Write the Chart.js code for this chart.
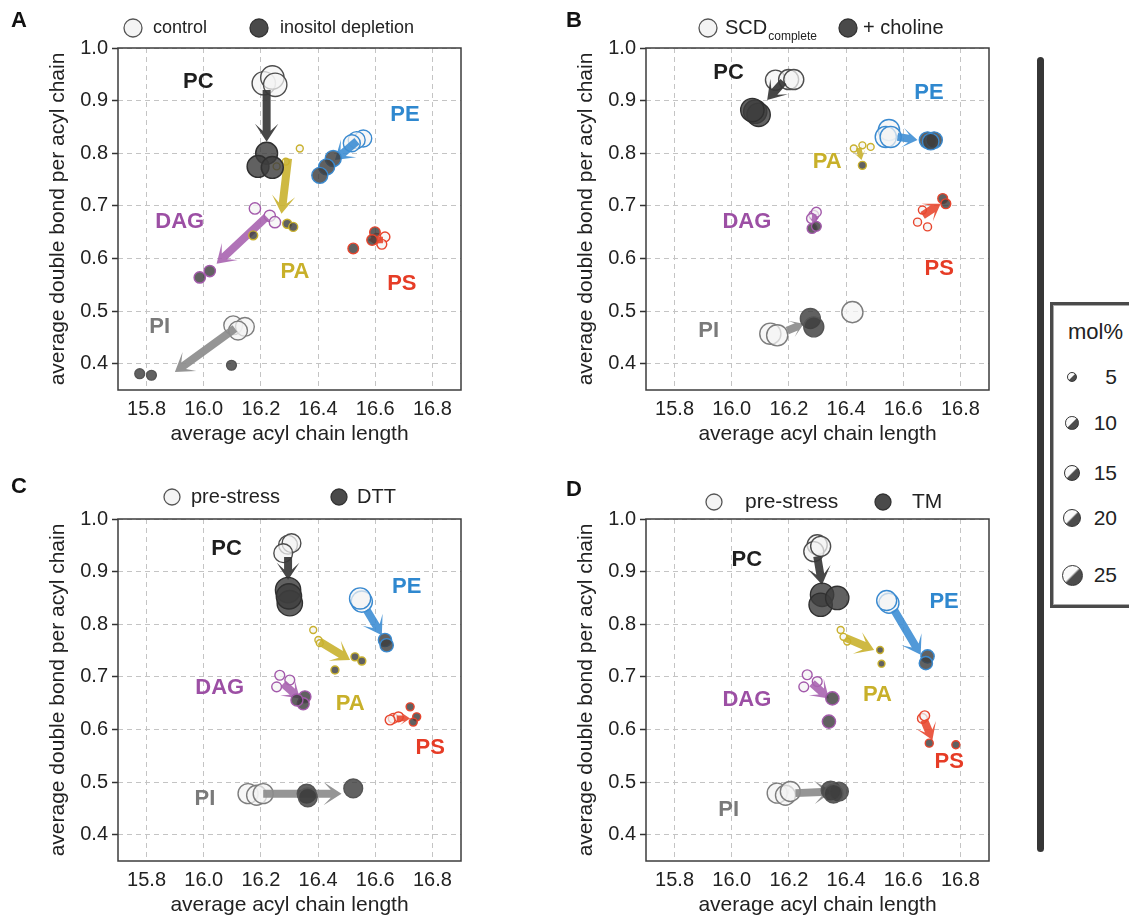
<!DOCTYPE html>
<html>
<head>
<meta charset="utf-8">
<script src="https://cdn.jsdelivr.net/npm/chart.js@4.4.1/dist/chart.umd.min.js"></script>
<style>
  body { margin:0; background:#fff; width:1129px; height:922px; overflow:hidden; position:relative;
         font-family:"Liberation Sans", Arial, sans-serif; color:#222; }
  canvas { position:absolute; }
  #bar { position:absolute; left:1037px; top:57px; width:7px; height:795px; background:#363636; border-radius:4px; }
  #molbox { position:absolute; left:1050px; top:302px; width:110px; height:306px; box-sizing:border-box;
            border:3px solid #4a4a4a; box-shadow: inset 0 0 0 1px #aaa; }
  #molbox .t { position:absolute; left:15px; top:14px; font-size:22px; }
  .mi { position:absolute; border-radius:50%; box-sizing:border-box; border:1px solid #333;
        background:linear-gradient(135deg, #fafafa 0 46%, #4c4c4c 54% 100%); }
  .mn { position:absolute; width:40px; text-align:right; font-size:21px; line-height:22px; }
</style>
</head>
<body>
<div id="bar"></div>
<div id="molbox"><div class="t">mol%</div></div>

<script>
// ── Data ─────────────────────────────────────────────────────────────────────
const classes = ['PC', 'PE', 'PA', 'DAG', 'PS', 'PI'];
const xTicks = [15.8, 16.0, 16.2, 16.4, 16.6, 16.8];
const yTicks = [0.4, 0.5, 0.6, 0.7, 0.8, 0.9, 1.0];
const molLegend = [5, 10, 15, 20, 25];

// points: [class, average acyl chain length, average double bonds, mol%]
// A: control -> inositol depletion
const aBefore = [
  ['PC', 16.21, 0.933, 34], ['PC', 16.24, 0.944, 34], ['PC', 16.25, 0.930, 34],
  ['PE', 16.558, 0.828, 18], ['PE', 16.535, 0.825, 18], ['PE', 16.518, 0.819, 18],
  ['PA', 16.336, 0.809, 3], ['PA', 16.287, 0.784, 3], ['PA', 16.255, 0.775, 3],
  ['DAG', 16.179, 0.695, 8], ['DAG', 16.231, 0.681, 8], ['DAG', 16.249, 0.669, 8],
  ['PS', 16.605, 0.638, 6], ['PS', 16.634, 0.641, 6], ['PS', 16.623, 0.627, 6],
  ['PI', 16.103, 0.473, 22], ['PI', 16.144, 0.470, 22], ['PI', 16.120, 0.463, 22]
];
const aAfter = [
  ['PC', 16.22, 0.800, 30], ['PC', 16.19, 0.775, 30], ['PC', 16.24, 0.773, 30],
  ['PE', 16.453, 0.790, 16], ['PE', 16.430, 0.774, 16], ['PE', 16.406, 0.758, 16],
  ['PA', 16.292, 0.666, 5], ['PA', 16.313, 0.660, 5], ['PA', 16.173, 0.644, 5],
  ['DAG', 15.986, 0.564, 8], ['DAG', 16.021, 0.576, 8],
  ['PS', 16.599, 0.650, 7], ['PS', 16.523, 0.619, 7], ['PS', 16.589, 0.635, 7],
  ['PI', 15.776, 0.381, 6], ['PI', 15.817, 0.378, 6], ['PI', 16.097, 0.397, 6]
];
// arrows: [class, x from, y from, x to, y to]
const aArrows = [
  ['PC', 16.22, 0.920, 16.22, 0.822], ['PE', 16.536, 0.823, 16.459, 0.787],
  ['PA', 16.295, 0.790, 16.272, 0.685], ['DAG', 16.22, 0.679, 16.045, 0.590],
  ['PS', 16.627, 0.635, 16.575, 0.635], ['PI', 16.109, 0.467, 15.899, 0.384]
];
const aLabels = [
  ['PC', 15.981, 0.936], ['PE', 16.704, 0.872], ['PA', 16.319, 0.574],
  ['DAG', 15.916, 0.669], ['PS', 16.693, 0.552], ['PI', 15.846, 0.470]
];

// B: SCD complete -> + choline
const bBefore = [
  ['PC', 16.153, 0.939, 25], ['PC', 16.199, 0.940, 25], ['PC', 16.217, 0.940, 25],
  ['PE', 16.550, 0.844, 28], ['PE', 16.539, 0.831, 28], ['PE', 16.556, 0.831, 28],
  ['PA', 16.427, 0.809, 3], ['PA', 16.457, 0.815, 3], ['PA', 16.486, 0.812, 3],
  ['DAG', 16.287, 0.682, 6], ['DAG', 16.296, 0.688, 6], ['DAG', 16.279, 0.676, 6],
  ['PS', 16.650, 0.669, 4], ['PS', 16.685, 0.660, 4], ['PS', 16.667, 0.692, 4],
  ['PI', 16.135, 0.457, 28], ['PI', 16.159, 0.454, 28], ['PI', 16.422, 0.498, 28]
];
const bAfter = [
  ['PC', 16.082, 0.879, 34], ['PC', 16.094, 0.873, 34], ['PC', 16.072, 0.882, 34],
  ['PE', 16.685, 0.825, 17], ['PE', 16.708, 0.825, 17], ['PE', 16.696, 0.822, 17],
  ['PA', 16.457, 0.777, 4],
  ['DAG', 16.281, 0.657, 6], ['DAG', 16.296, 0.661, 6],
  ['PS', 16.738, 0.714, 6], ['PS', 16.749, 0.704, 6],
  ['PI', 16.275, 0.486, 25], ['PI', 16.287, 0.470, 25]
];
const bArrows = [
  ['PC', 16.181, 0.936, 16.124, 0.901], ['PE', 16.58, 0.831, 16.65, 0.825],
  ['PA', 16.444, 0.810, 16.454, 0.787], ['DAG', 16.289, 0.684, 16.286, 0.665],
  ['PS', 16.668, 0.682, 16.731, 0.704], ['PI', 16.194, 0.463, 16.252, 0.476]
];
const bLabels = [
  ['PC', 15.989, 0.952], ['PE', 16.690, 0.914], ['PA', 16.334, 0.784],
  ['DAG', 16.053, 0.669], ['PS', 16.726, 0.581], ['PI', 15.919, 0.463]
];

// C: pre-stress -> DTT
const cBefore = [
  ['PC', 16.295, 0.951, 22], ['PC', 16.307, 0.954, 22], ['PC', 16.278, 0.935, 22],
  ['PE', 16.553, 0.843, 28], ['PE', 16.547, 0.849, 28],
  ['PA', 16.383, 0.789, 3], ['PA', 16.401, 0.770, 3], ['PA', 16.406, 0.764, 3],
  ['DAG', 16.266, 0.703, 6], ['DAG', 16.255, 0.681, 6], ['DAG', 16.301, 0.694, 6],
  ['PS', 16.663, 0.621, 6], ['PS', 16.681, 0.624, 6], ['PS', 16.652, 0.618, 6],
  ['PI', 16.155, 0.478, 25], ['PI', 16.185, 0.475, 25], ['PI', 16.208, 0.478, 25]
];
const cAfter = [
  ['PC', 16.295, 0.865, 40], ['PC', 16.301, 0.840, 40], ['PC', 16.298, 0.853, 40],
  ['PE', 16.634, 0.770, 11], ['PE', 16.640, 0.760, 11],
  ['PA', 16.529, 0.738, 4], ['PA', 16.553, 0.730, 4], ['PA', 16.459, 0.713, 4],
  ['DAG', 16.354, 0.662, 9], ['DAG', 16.348, 0.649, 9], ['DAG', 16.326, 0.656, 9],
  ['PS', 16.722, 0.643, 4], ['PS', 16.745, 0.624, 4], ['PS', 16.733, 0.614, 4],
  ['PI', 16.360, 0.478, 22], ['PI', 16.364, 0.471, 22], ['PI', 16.523, 0.488, 22]
];
const cArrows = [
  ['PC', 16.295, 0.928, 16.295, 0.884], ['PE', 16.57, 0.827, 16.623, 0.779],
  ['PA', 16.406, 0.767, 16.512, 0.732], ['DAG', 16.278, 0.687, 16.336, 0.659],
  ['PS', 16.675, 0.621, 16.722, 0.621], ['PI', 16.208, 0.478, 16.482, 0.478]
];
const cLabels = [
  ['PC', 16.080, 0.944], ['PE', 16.710, 0.871], ['PA', 16.512, 0.649],
  ['DAG', 16.056, 0.678], ['PS', 16.792, 0.564], ['PI', 16.004, 0.468]
];

// D: pre-stress -> TM
const dBefore = [
  ['PC', 16.299, 0.951, 25], ['PC', 16.287, 0.938, 25], ['PC', 16.311, 0.948, 25],
  ['PE', 16.550, 0.840, 25], ['PE', 16.542, 0.845, 25],
  ['PA', 16.381, 0.789, 3], ['PA', 16.404, 0.767, 3], ['PA', 16.391, 0.776, 3],
  ['DAG', 16.264, 0.704, 6], ['DAG', 16.252, 0.681, 6], ['DAG', 16.299, 0.691, 6],
  ['PS', 16.667, 0.621, 6], ['PS', 16.675, 0.626, 6],
  ['PI', 16.159, 0.479, 25], ['PI', 16.188, 0.475, 25], ['PI', 16.205, 0.482, 25]
];
const dAfter = [
  ['PC', 16.316, 0.856, 34], ['PC', 16.311, 0.837, 34], ['PC', 16.369, 0.850, 34],
  ['PE', 16.685, 0.739, 11], ['PE', 16.679, 0.726, 11],
  ['PA', 16.519, 0.751, 3], ['PA', 16.524, 0.725, 3],
  ['DAG', 16.352, 0.659, 11], ['DAG', 16.340, 0.615, 11],
  ['PS', 16.691, 0.574, 4], ['PS', 16.784, 0.571, 4],
  ['PI', 16.346, 0.484, 22], ['PI', 16.375, 0.482, 22], ['PI', 16.356, 0.478, 22]
];
const dArrows = [
  ['PC', 16.299, 0.929, 16.316, 0.875], ['PE', 16.568, 0.827, 16.661, 0.742],
  ['PA', 16.398, 0.774, 16.498, 0.751], ['DAG', 16.281, 0.688, 16.34, 0.659],
  ['PS', 16.673, 0.618, 16.702, 0.580], ['PI', 16.223, 0.479, 16.352, 0.482]
];
const dLabels = [
  ['PC', 16.053, 0.923], ['PE', 16.743, 0.843], ['PA', 16.510, 0.666],
  ['DAG', 16.053, 0.656], ['PS', 16.761, 0.539], ['PI', 15.989, 0.447]
];

// ── Styles ───────────────────────────────────────────────────────────────────
const FONT = '"Liberation Sans", Arial, sans-serif';
const edgeOpen  = { PC:'#4d4d4d', PE:'#3a8ad0', PA:'#c9b12e', DAG:'#a35aab', PS:'#e8452d', PI:'#7d7d7d' };
const edgeDark  = { PC:'#303030', PE:'#3a8ad0', PA:'#c9b12e', DAG:'#a35aab', PS:'#e8452d', PI:'#555555' };
const arrowCol  = { PC:'rgba(55,55,55,0.92)', PE:'rgba(62,142,212,0.9)', PA:'rgba(201,177,46,0.9)',
                    DAG:'rgba(168,100,176,0.9)', PS:'rgba(232,72,48,0.9)', PI:'rgba(140,140,140,0.92)' };
const labelCol  = { PC:'#1e1e1e', PE:'#2f88cf', PA:'#c8b02a', DAG:'#9c4fa4', PS:'#e63c26', PI:'#7a7a7a' };
const radius = m => 2 * Math.sqrt(m);

const panels = [
  { letter:'A', left:0,   top:0,   before:aBefore, after:aAfter, arrows:aArrows, labels:aLabels, letterAt:[19, 21],
    legend:{ y:28, r:9, font:18, items:[ {cx:133, tx:153, filled:false, text:'control'},
                                         {cx:259, tx:280, filled:true,  text:'inositol depletion'} ] } },
  { letter:'B', left:528, top:0,   before:bBefore, after:bAfter, arrows:bArrows, labels:bLabels, letterAt:[46, 21],
    legend:{ y:28, r:9, font:20, items:[ {cx:180, tx:197, filled:false, text:'SCD', sub:'complete'},
                                         {cx:320, tx:335, filled:true,  text:'+ choline'} ] } },
  { letter:'C', left:0,   top:471, before:cBefore, after:cAfter, arrows:cArrows, labels:cLabels, letterAt:[19, 16],
    legend:{ y:26, r:8, font:20, items:[ {cx:172, tx:191, filled:false, text:'pre-stress'},
                                         {cx:339, tx:357, filled:true,  text:'DTT'} ] } },
  { letter:'D', left:528, top:471, before:dBefore, after:dAfter, arrows:dArrows, labels:dLabels, letterAt:[46, 19],
    legend:{ y:31, r:8, font:21, items:[ {cx:186, tx:217, filled:false, text:'pre-stress'},
                                         {cx:355, tx:384, filled:true,  text:'TM'} ] } }
];

function toPoints(rows) {
  return rows.map(([cls, x, y, m]) => ({ x, y, r: radius(m), cls }));
}

function drawArrow(ctx, x0, y0, x1, y1, color) {
  const dx = x1 - x0, dy = y1 - y0, len = Math.hypot(dx, dy);
  if (len < 1) return;
  const ux = dx / len, uy = dy / len, px = -uy, py = ux;
  const hl = Math.min(18, len * 0.75);
  const hw = hl * 1.3;
  const sw = Math.min(8, hw * 0.45);
  const nx = x1 - ux * hl * 0.6, ny = y1 - uy * hl * 0.6;
  const bx = x1 - ux * hl, by = y1 - uy * hl;
  ctx.save();
  ctx.fillStyle = color;
  ctx.beginPath();
  ctx.moveTo(x0 + px * sw / 2, y0 + py * sw / 2);
  ctx.lineTo(nx + px * sw / 2, ny + py * sw / 2);
  ctx.lineTo(bx + px * hw / 2, by + py * hw / 2);
  ctx.lineTo(x1, y1);
  ctx.lineTo(bx - px * hw / 2, by - py * hw / 2);
  ctx.lineTo(nx - px * sw / 2, ny - py * sw / 2);
  ctx.lineTo(x0 - px * sw / 2, y0 - py * sw / 2);
  ctx.closePath();
  ctx.fill();
  ctx.restore();
}

function legendCircle(ctx, x, y, r, filled) {
  ctx.beginPath();
  ctx.arc(x, y, r, 0, Math.PI * 2);
  ctx.fillStyle = filled ? '#4a4a4a' : '#f4f4f4';
  ctx.fill();
  ctx.lineWidth = 1.3;
  ctx.strokeStyle = filled ? '#333' : '#555';
  ctx.stroke();
}

function decorPlugin(p) {
  return {
    id: 'decor' + p.letter,
    afterDatasetDraw(chart, args) {
      if (args.index !== 1) return;          // open circles done -> arrows, then dark circles
      const { ctx, scales: { x, y } } = chart;
      p.arrows.forEach(([cls, xa, ya, xb, yb]) => {
        drawArrow(ctx, x.getPixelForValue(xa), y.getPixelForValue(ya),
                       x.getPixelForValue(xb), y.getPixelForValue(yb), arrowCol[cls]);
      });
    },
    afterDraw(chart) {
      const { ctx, chartArea: a, scales: { x, y } } = chart;
      ctx.save();
      // frame
      ctx.strokeStyle = '#3c3c3c';
      ctx.lineWidth = 1.5;
      ctx.strokeRect(a.left, a.top, a.right - a.left, a.bottom - a.top);
      // class labels
      ctx.font = 'bold 22px ' + FONT;
      ctx.textAlign = 'center';
      ctx.textBaseline = 'middle';
      p.labels.forEach(([cls, lx, ly]) => {
        ctx.fillStyle = labelCol[cls];
        ctx.fillText(cls, x.getPixelForValue(lx), y.getPixelForValue(ly));
      });
      // panel letter
      ctx.fillStyle = '#111';
      ctx.font = 'bold 22px ' + FONT;
      ctx.fillText(p.letter, p.letterAt[0], p.letterAt[1]);
      // top legend
      const lg = p.legend;
      ctx.textAlign = 'left';
      lg.items.forEach(it => {
        legendCircle(ctx, it.cx, lg.y, lg.r, it.filled);
        ctx.fillStyle = '#222';
        ctx.font = lg.font + 'px ' + FONT;
        ctx.textBaseline = 'middle';
        ctx.fillText(it.text, it.tx, lg.y);
        if (it.sub) {
          const w = ctx.measureText(it.text).width;
          ctx.font = '12px ' + FONT;
          ctx.fillText(it.sub, it.tx + w + 1, lg.y + 9);
        }
      });
      ctx.restore();
    }
  };
}

function makePanel(p) {
  const cv = document.createElement('canvas');
  cv.width = 560; cv.height = 451;
  cv.style.left = p.left + 'px';
  cv.style.top = p.top + 'px';
  document.body.appendChild(cv);

  const tickFont = { family: FONT, size: 20 };
  const titleFont = { family: FONT, size: 21 };

  new Chart(cv, {
    type: 'bubble',
    data: {
      datasets: [
        { label: 'after', data: toPoints(p.after),
          backgroundColor: 'rgba(62,62,62,0.82)',
          borderColor: c => edgeDark[c.raw.cls], borderWidth: 1.4 },
        { label: 'before', data: toPoints(p.before),
          backgroundColor: 'rgba(244,244,244,0.72)',
          borderColor: c => edgeOpen[c.raw.cls], borderWidth: 1.4 }
      ]
    },
    options: {
      responsive: false,
      animation: false,
      events: [],
      layout: { padding: { left: 42, top: 48, right: 99, bottom: 0 } },
      plugins: { legend: { display: false }, tooltip: { enabled: false } },
      scales: {
        x: {
          type: 'linear', min: 15.7, max: 16.9,
          afterBuildTicks: s => { s.ticks = xTicks.map(v => ({ value: v })); },
          afterFit: s => { s.height = 61; },
          ticks: { color: '#222', font: tickFont, padding: 7, maxRotation: 0,
                   callback: v => v.toFixed(1) },
          grid: { color: '#c4c4c4', lineWidth: 1, drawTicks: false },
          border: { display: false, dash: [5, 4] },
          title: { display: true, text: 'average acyl chain length', color: '#222', font: titleFont,
                   padding: { top: 4, bottom: 4 } }
        },
        y: {
          type: 'linear', min: 0.35, max: 1.0,
          afterBuildTicks: s => { s.ticks = yTicks.map(v => ({ value: v })); },
          afterFit: s => { s.width = 76; },
          ticks: { color: '#222', font: tickFont, padding: 4, callback: v => v.toFixed(1) },
          grid: { color: '#c4c4c4', lineWidth: 1, drawTicks: true, tickLength: 6,
                  tickColor: '#333', tickWidth: 1.5, tickBorderDash: [] },
          border: { display: false, dash: [5, 4] },
          title: { display: true, text: 'average double bond per acyl chain', color: '#222', font: titleFont,
                   padding: { top: 4, bottom: 4 } }
        }
      }
    },
    plugins: [decorPlugin(p)]
  });
}

panels.forEach(makePanel);

// ── mol% size legend ─────────────────────────────────────────────────────────
(function () {
  const box = document.getElementById('molbox');
  const rowsY = [72, 118, 168, 213, 270];   // centre of each row inside the box
  molLegend.forEach((m, i) => {
    const r = radius(m) + 0.5;
    const c = document.createElement('div');
    c.className = 'mi';
    c.style.width = c.style.height = (2 * r) + 'px';
    c.style.left = (19 - r) + 'px';
    c.style.top = (rowsY[i] - r) + 'px';
    box.appendChild(c);
    const t = document.createElement('div');
    t.className = 'mn';
    t.textContent = m;
    t.style.left = '24px';
    t.style.top = (rowsY[i] - 11) + 'px';
    box.appendChild(t);
  });
})();
</script>
</body>
</html>
